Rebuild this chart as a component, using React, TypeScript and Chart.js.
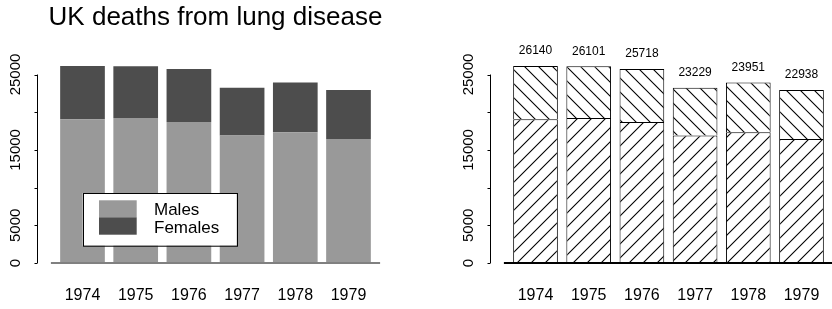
import React, { useEffect, useRef } from "react";
import { Chart, registerables } from "chart.js";

Chart.register(...registerables);

// ---- data ----
const years = ["1974", "1975", "1976", "1977", "1978", "1979"];
const males = [19071, 19247, 18697, 16927, 17329, 16437];
const females = [7069, 6854, 7021, 6302, 6622, 6501];
const totals = [26140, 26101, 25718, 23229, 23951, 22938];
const yTicks = [0, 5000, 10000, 15000, 20000, 25000];
const yTickLabels = ["0", "5000", "", "15000", "", "25000"];
const seriesNames = ["Males", "Females"];
const titleText = "UK deaths from lung disease";

const FONT = "'Liberation Sans', Arial, Helvetica, sans-serif";
const W = 416;
const H = 309;

function makeHatch(ctx: CanvasRenderingContext2D, dir: number) {
  const s = 14;
  const c = document.createElement("canvas");
  c.width = s;
  c.height = s;
  const g = c.getContext("2d")!;
  g.fillStyle = "#ffffff";
  g.fillRect(0, 0, s, s);
  g.strokeStyle = "#000000";
  g.lineWidth = 1.1;
  g.beginPath();
  if (dir === 1) {
    g.moveTo(-2, s + 2);
    g.lineTo(s + 2, -2);
    g.moveTo(-2, 2);
    g.lineTo(2, -2);
    g.moveTo(s - 2, s + 2);
    g.lineTo(s + 2, s - 2);
  } else {
    g.moveTo(-2, -2);
    g.lineTo(s + 2, s + 2);
    g.moveTo(s - 2, -2);
    g.lineTo(s + 2, 2);
    g.moveTo(-2, s - 2);
    g.lineTo(2, s + 2);
  }
  g.stroke();
  return ctx.createPattern(c, "repeat");
}

function axesPlugin(kind: "left" | "right") {
  return {
    id: "rAxes_" + kind,
    afterDatasetsDraw(chart: any) {
      const ctx: CanvasRenderingContext2D = chart.ctx;
      const xs = chart.scales.x;
      const ys = chart.scales.y;
      const ca = chart.chartArea;
      ctx.save();

      // baseline
      const y0 = ys.getPixelForValue(0);
      ctx.lineWidth = 2;
      ctx.strokeStyle = kind === "left" ? "#808080" : "#000000";
      ctx.beginPath();
      ctx.moveTo(ca.left - 5, y0);
      ctx.lineTo(kind === "left" ? ca.right + 5 : chart.width, y0);
      ctx.stroke();

      // y axis
      const ax = Math.round(ca.left - 18.5) + 0.5;
      ctx.lineWidth = 1;
      ctx.strokeStyle = "#000000";
      ctx.beginPath();
      ctx.moveTo(ax, ys.getPixelForValue(yTicks[0]));
      ctx.lineTo(ax, ys.getPixelForValue(yTicks[yTicks.length - 1]));
      yTicks.forEach((v) => {
        const py = Math.round(ys.getPixelForValue(v)) + 0.5;
        ctx.moveTo(ax, py);
        ctx.lineTo(ax - 3, py);
      });
      ctx.stroke();

      ctx.fillStyle = "#000000";
      ctx.font = `15px ${FONT}`;
      ctx.textAlign = "center";
      ctx.textBaseline = "middle";
      yTicks.forEach((v, i) => {
        const lab = yTickLabels[i];
        if (!lab) return;
        ctx.save();
        ctx.translate(ax - 22, ys.getPixelForValue(v));
        ctx.rotate(-Math.PI / 2);
        ctx.fillText(lab, 0, 0);
        ctx.restore();
      });

      // x labels
      ctx.font = `16px ${FONT}`;
      ctx.textBaseline = "alphabetic";
      years.forEach((lab, i) => {
        ctx.fillText(lab, xs.getPixelForValue(i), y0 + 37);
      });

      if (kind === "left") {
        // title
        ctx.font = `26px ${FONT}`;
        ctx.fillText(titleText, (ca.left + ca.right) / 2, 24.5);

        // legend
        const bx = ca.left + 26.8;
        const by = 193;
        ctx.fillStyle = "#ffffff";
        ctx.fillRect(bx, by, 154, 52.7);
        ctx.strokeStyle = "#000000";
        ctx.lineWidth = 1;
        ctx.strokeRect(Math.round(bx) + 0.5, by + 0.5, 154, 52.7);
        const colors = chart.data.datasets.map((d: any) => d.backgroundColor);
        ctx.fillStyle = colors[0];
        ctx.fillRect(bx + 16.3, by + 7.3, 37.7, 17);
        ctx.fillStyle = colors[1];
        ctx.fillRect(bx + 16.3, by + 24.3, 37.7, 17.4);
        ctx.fillStyle = "#000000";
        ctx.font = `17px ${FONT}`;
        ctx.textAlign = "left";
        ctx.fillText(seriesNames[0], bx + 71.3, by + 22.3);
        ctx.fillText(seriesNames[1], bx + 71.3, by + 40);
      } else {
        // totals above bars
        ctx.font = `12px ${FONT}`;
        ctx.textAlign = "center";
        ctx.textBaseline = "middle";
        totals.forEach((t, i) => {
          ctx.fillText(String(t), xs.getPixelForValue(i), ys.getPixelForValue(t) - 15);
        });
      }
      ctx.restore();
    },
  };
}

function Panel({ kind }: { kind: "left" | "right" }) {
  const ref = useRef<HTMLCanvasElement | null>(null);
  useEffect(() => {
    const canvas = ref.current!;
    const ctx = canvas.getContext("2d")!;
    const isLeft = kind === "left";
    const ds = isLeft
      ? [
          { label: seriesNames[0], data: males, backgroundColor: "#999999", borderWidth: 0 },
          { label: seriesNames[1], data: females, backgroundColor: "#4d4d4d", borderWidth: 0 },
        ]
      : [
          {
            label: seriesNames[0],
            data: males,
            backgroundColor: makeHatch(ctx, 1),
            borderColor: "#000000",
            borderWidth: 1,
          },
          {
            label: seriesNames[1],
            data: females,
            backgroundColor: makeHatch(ctx, -1),
            borderColor: "#000000",
            borderWidth: 1,
          },
        ];
    const chart = new Chart(ctx, {
      type: "bar",
      data: { labels: years, datasets: ds as any },
      options: {
        responsive: false,
        animation: false,
        devicePixelRatio: 1,
        layout: {
          padding: isLeft
            ? { left: 55.9, right: 40.9, top: 51.9, bottom: 46 }
            : { left: 92.9, right: 3.9, top: 51.9, bottom: 46 },
        },
        datasets: { bar: { categoryPercentage: 1, barPercentage: 0.84 } } as any,
        scales: {
          x: { stacked: true, display: false, offset: true, grid: { display: false } },
          y: { stacked: true, display: false, min: 0, max: 28000 },
        },
        plugins: {
          legend: { display: false },
          tooltip: { enabled: false },
          title: { display: false },
        },
      },
      plugins: [axesPlugin(kind)],
    });
    return () => chart.destroy();
  }, [kind]);
  return (
    <canvas
      ref={ref}
      width={W}
      height={H}
      style={{ position: "absolute", top: 0, left: kind === "left" ? 0 : W, width: W, height: H }}
    />
  );
}

export default function App() {
  return (
    <div style={{ position: "fixed", left: 0, top: 0, width: 832, height: 309, background: "#ffffff" }}>
      <Panel kind="left" />
      <Panel kind="right" />
    </div>
  );
}
